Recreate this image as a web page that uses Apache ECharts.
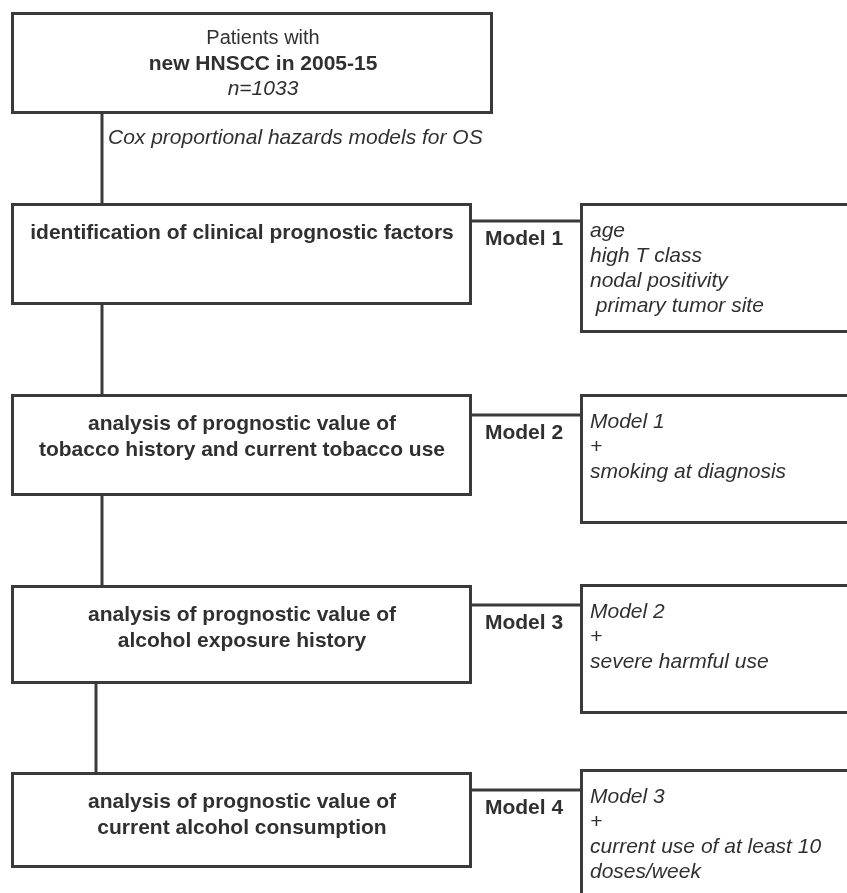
<!DOCTYPE html>
<html>
<head>
<meta charset="utf-8">
<script src="https://cdn.jsdelivr.net/npm/echarts@6/dist/echarts.min.js"></script>
<style>
html,body{margin:0;padding:0;background:#fff;}
#chart{width:847px;height:893px;}
</style>
</head>
<body>
<div id="chart"></div>
<script>
// ---- content ----
const headerLines = ['Patients with', 'new HNSCC in 2005-15', 'n=1033'];
const headerStyles = ['normal', 'bold', 'italic'];
const methodLabel = 'Cox proportional hazards models for OS';
const stepTexts = [
  ['identification of clinical prognostic factors'],
  ['analysis of prognostic value of', 'tobacco history and current tobacco use'],
  ['analysis of prognostic value of', 'alcohol exposure history'],
  ['analysis of prognostic value of', 'current alcohol consumption']
];
const modelNames = ['Model 1', 'Model 2', 'Model 3', 'Model 4'];
const modelContents = [
  ['age', 'high T class', 'nodal positivity', ' primary tumor site'],
  ['Model 1', '+', 'smoking at diagnosis'],
  ['Model 2', '+', 'severe harmful use'],
  ['Model 3', '+', 'current use of at least 10', 'doses/week']
];

// ---- layout (pixel-space coordinates on hidden value axes) ----
const W = 847, H = 893;
const LW = 3;
const INK = '#3a3a3a';
const TXT = '#303030';
const FAM = '"Liberation Sans", Arial, Helvetica, sans-serif';
const headerBox = [11, 12, 493, 114];
const stepBoxY = [[203, 305], [394, 496], [585, 684], [772, 868]];
const stepX = [11, 472];
const rightBoxY = [[203, 333], [394, 524], [584, 714], [769, 910]];
const rightX = 580;
const connectorY = [221, 415, 605, 790];
const trunkX = [102, 102, 102, 96];

function font(style, size) {
  const w = style === 'bold' ? 'bold ' : '';
  const s = style === 'italic' ? 'italic ' : '';
  return s + w + size + 'px ' + FAM;
}

function renderItem(params, api) {
  const P = (x, y) => api.coord([x, y]);
  const children = [];
  function rect(x0, y0, x1, y1) {
    const a = P(x0 + LW / 2, y0 + LW / 2), b = P(x1 - LW / 2, y1 - LW / 2);
    children.push({type: 'rect', shape: {x: a[0], y: a[1], width: b[0] - a[0], height: b[1] - a[1]},
      style: {fill: '#fff', stroke: INK, lineWidth: LW}});
  }
  function line(x0, y0, x1, y1) {
    const a = P(x0, y0), b = P(x1, y1);
    children.push({type: 'line', shape: {x1: a[0], y1: a[1], x2: b[0], y2: b[1]},
      style: {stroke: INK, lineWidth: LW}});
  }
  function text(t, x, y, style, size, align) {
    const a = P(x, y);
    children.push({type: 'text', style: {text: t, x: a[0], y: a[1], font: font(style, size),
      fill: TXT, align: align || 'center', verticalAlign: 'middle'}});
  }
  // trunk connectors
  line(trunkX[0], headerBox[3], trunkX[0], stepBoxY[0][0]);
  for (let i = 0; i < stepBoxY.length - 1; i++) {
    line(trunkX[i + 1], stepBoxY[i][1], trunkX[i + 1], stepBoxY[i + 1][0]);
  }
  // header
  rect(headerBox[0], headerBox[1], headerBox[2], headerBox[3]);
  headerLines.forEach((t, i) => {
    text(t, 263, 38.5 + i * 25.5, headerStyles[i], headerStyles[i] === 'normal' ? 20 : 21);
  });
  text(methodLabel, 108, 138, 'italic', 21, 'left');
  // steps
  stepTexts.forEach((lines, i) => {
    const [y0, y1] = stepBoxY[i];
    rect(stepX[0], y0, stepX[1], y1);
    lines.forEach((t, j) => text(t, 242, y0 + 30 + j * 26, 'bold', 21));
    line(stepX[1], connectorY[i], rightX, connectorY[i]);
    text(modelNames[i], 524, connectorY[i] + 18, 'bold', 21);
    const [r0, r1] = rightBoxY[i];
    rect(rightX, r0, W + 20, r1);
    modelContents[i].forEach((t, j) => text(t, 590, r0 + 28 + j * 25, 'italic', 21, 'left'));
  });
  return {type: 'group', children};
}

const chart = echarts.init(document.getElementById('chart'), null, {renderer: 'canvas'});
chart.setOption({
  animation: false,
  backgroundColor: '#ffffff',
  grid: {left: 0, right: 0, top: 0, bottom: 0},
  xAxis: {type: 'value', min: 0, max: W, show: false},
  yAxis: {type: 'value', min: 0, max: H, inverse: true, show: false},
  series: [{
    type: 'custom',
    coordinateSystem: 'cartesian2d',
    clip: false,
    data: [[0, 0]],
    renderItem: renderItem
  }]
});
</script>
</body>
</html>
